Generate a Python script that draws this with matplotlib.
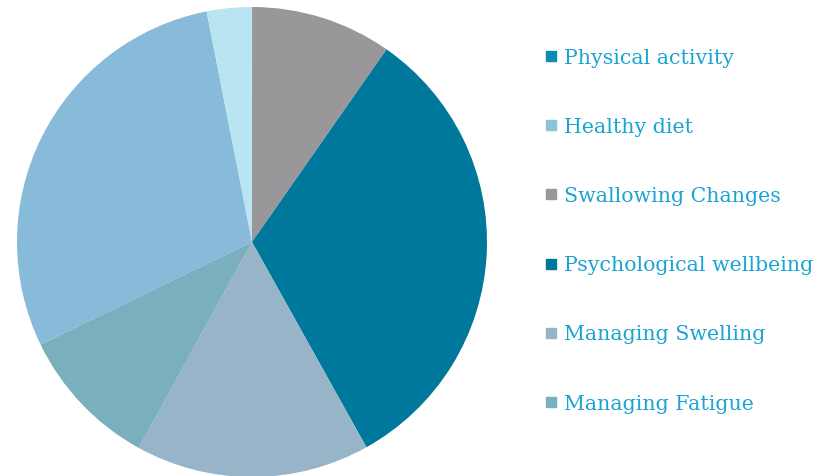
import matplotlib.pyplot as plt
from matplotlib.patches import Rectangle

labels = ["Physical activity", "Healthy diet", "Swallowing Changes",
          "Psychological wellbeing", "Managing Swelling", "Managing Fatigue"]
values = [29.1, 3.1, 9.7, 32.2, 16.1, 9.8]
slice_colors = ["#88bbd9", "#b9e5f2", "#999799", "#00789b", "#97b4c8", "#7aafbe"]
legend_colors = ["#0e8ab5", "#8cc3d6", "#999799", "#007699", "#97b4c8", "#7aafbe"]

fig = plt.figure(figsize=(8.34, 4.77), dpi=100)
ax = fig.add_axes([17/834, -1/477, 470/834, 470/477])
ax.pie(values, colors=slice_colors, startangle=-154.1, counterclock=False,
       wedgeprops=dict(linewidth=0))
ax.set_xlim(-1, 1)
ax.set_ylim(-1, 1)
ax.set_aspect("equal")

# legend drawn by hand
top = 1 - 57/477
step = 69.2/477
for i, lab in enumerate(labels):
    y = top - i*step
    fig.patches.append(Rectangle((546/834, y - 5/477), 10/834, 10/477,
                                 transform=fig.transFigure, color=legend_colors[i]))
    fig.text(564/834, y - 1/477, lab, color="#1ba3d2", fontsize=14.8,
             family="DejaVu Serif", va="center", ha="left")

fig.savefig("out.png", dpi=100)
